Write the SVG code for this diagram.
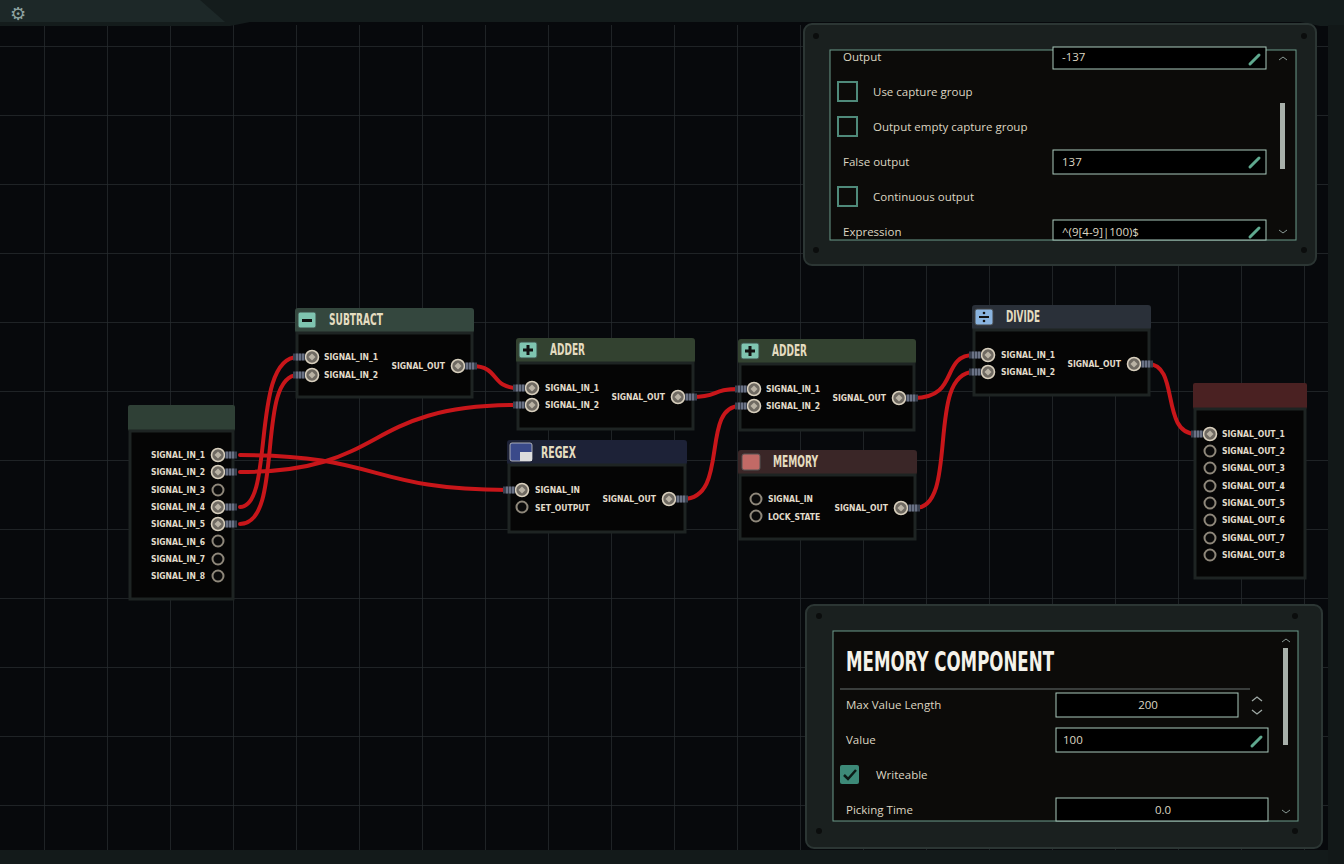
<svg xmlns="http://www.w3.org/2000/svg" width="1344" height="864" viewBox="0 0 1344 864">
<defs>
<pattern id="grid" x="44" y="46" width="63" height="69" patternUnits="userSpaceOnUse">
<path d="M0 0V69M0 0H63" stroke="#262b2e" stroke-width="1.5" fill="none"/>
</pattern>
<g id="port"><circle r="6.5" fill="#6f6a62" stroke="#d8cfbd" stroke-width="1.6"/><rect x="-2.5" y="-2.5" width="5" height="5" fill="#b9b2a4" transform="rotate(45)"/></g>
<g id="empty"><circle r="5.5" fill="#0a0a0a" stroke="#8e877a" stroke-width="2"/></g>
<g id="stubR"><rect x="7" y="-3.5" width="12" height="7" fill="#3a4150"/><path d="M9-3.5v7M12-3.5v7M15-3.5v7" stroke="#9aa3b8" stroke-width="1"/></g>
<g id="stubL"><rect x="-19" y="-3.5" width="12" height="7" fill="#3a4150"/><path d="M-9-3.5v7M-12-3.5v7M-15-3.5v7" stroke="#9aa3b8" stroke-width="1"/></g>
</defs>
<style>
.pl{font-family:"DejaVu Sans Condensed","Liberation Sans Narrow",sans-serif;font-size:8.5px;fill:#e2dccb;font-weight:bold}
.hd{font-family:"DejaVu Sans Condensed","Liberation Sans",sans-serif;font-size:15px;font-weight:bold;fill:#e4dcc0}
.body{fill:#050505;stroke:#1e2423;stroke-width:3}
.w{fill:none;stroke:#c8161a;stroke-width:4;stroke-linecap:round}
.ui{font-family:"Open Sans","DejaVu Sans",sans-serif;font-size:11.5px;fill:#ddd6c2}
.box{fill:#000;stroke:#a9c9bc;stroke-width:1}
.cb{fill:none;stroke:#4f8a7a;stroke-width:2}
.pen{stroke:#5fa88e;stroke-width:3;stroke-linecap:round}
</style>
<rect width="1344" height="864" fill="#07090c"/>
<rect x="0" y="25" width="1344" height="839" fill="url(#grid)"/>
<path d="M0 0H1344V26H1320L1300 22H250L230 26H0Z" fill="#141c1c"/>
<path d="M0 0H200L225 22H0Z" fill="#1d2828"/>
<text x="10" y="20" font-family="DejaVu Sans" font-size="18" fill="#8fa3a0">⚙</text>
<rect x="0" y="850" width="1344" height="14" fill="#131a1a"/>
<rect x="1328" y="25" width="16" height="839" fill="#121818"/>

<g id="connectors">
<path class="w" d="M240 455C380 455 370 490 508 490"/>
<path class="w" d="M240 472C390 472 360 405 518 405"/>
<path class="w" d="M240 507C275 507 250 357 298 357"/>
<path class="w" d="M240 524C285 524 255 375 298 375"/>
<path class="w" d="M472 366C500 366 490 388 518 388"/>
<path class="w" d="M692 397C720 397 710 389 740 389"/>
<path class="w" d="M683 499C730 499 700 406 740 406"/>
<path class="w" d="M914 398C960 398 940 355 974 355"/>
<path class="w" d="M915 508C960 508 925 372 974 372"/>
<path class="w" d="M1148 364C1180 364 1160 434 1196 434"/>
</g>

<g id="input">
<rect x="128" y="405" width="107" height="26" rx="2" fill="#2f4036"/>
<rect class="body" x="130" y="431" width="103" height="168" fill="#070807"/>
<g class="pl" text-anchor="end">
<text x="205" y="458">SIGNAL_IN_1</text><text x="205" y="475">SIGNAL_IN_2</text><text x="205" y="493">SIGNAL_IN_3</text><text x="205" y="510">SIGNAL_IN_4</text><text x="205" y="527">SIGNAL_IN_5</text><text x="205" y="545">SIGNAL_IN_6</text><text x="205" y="562">SIGNAL_IN_7</text><text x="205" y="579">SIGNAL_IN_8</text>
</g>
<use href="#port" x="218" y="455"/><use href="#stubR" x="218" y="455"/>
<use href="#port" x="218" y="472"/><use href="#stubR" x="218" y="472"/>
<use href="#empty" x="218" y="490"/>
<use href="#port" x="218" y="507"/><use href="#stubR" x="218" y="507"/>
<use href="#port" x="218" y="524"/><use href="#stubR" x="218" y="524"/>
<use href="#empty" x="218" y="541"/><use href="#empty" x="218" y="559"/><use href="#empty" x="218" y="576"/>
</g>

<g id="subtract">
<rect x="295" y="308" width="179" height="25" rx="3" fill="#34473e"/>
<rect x="298" y="312" width="18" height="16" rx="2" fill="#7fc4b0" stroke="#3a4a45"/><rect x="302" y="319" width="10" height="3" fill="#111"/>
<text class="hd" x="329" y="325" textLength="54" lengthAdjust="spacingAndGlyphs">SUBTRACT</text>
<rect class="body" x="297" y="333" width="175" height="64"/>
<text class="pl" x="324" y="360">SIGNAL_IN_1</text><text class="pl" x="324" y="378">SIGNAL_IN_2</text>
<text class="pl" x="445" y="369" text-anchor="end">SIGNAL_OUT</text>
<use href="#port" x="312" y="357"/><use href="#stubL" x="312" y="357"/>
<use href="#port" x="312" y="375"/><use href="#stubL" x="312" y="375"/>
<use href="#port" x="458" y="366"/><use href="#stubR" x="458" y="366"/>
</g>

<g id="adder1">
<rect x="516" y="338" width="179" height="25" rx="3" fill="#334230"/>
<rect x="519" y="342" width="18" height="16" rx="2" fill="#7fc4b0" stroke="#3a4a45"/><path d="M528 345v10M523 350h10" stroke="#111" stroke-width="3"/>
<text class="hd" x="550" y="355" textLength="35" lengthAdjust="spacingAndGlyphs">ADDER</text>
<rect class="body" x="518" y="363" width="175" height="66"/>
<text class="pl" x="545" y="391">SIGNAL_IN_1</text><text class="pl" x="545" y="408">SIGNAL_IN_2</text>
<text class="pl" x="665" y="400" text-anchor="end">SIGNAL_OUT</text>
<use href="#port" x="532" y="388"/><use href="#stubL" x="532" y="388"/>
<use href="#port" x="532" y="405"/><use href="#stubL" x="532" y="405"/>
<use href="#port" x="678" y="397"/><use href="#stubR" x="678" y="397"/>
</g>

<g id="regex">
<rect x="507" y="440" width="180" height="25" rx="3" fill="#1d2237"/>
<rect x="510" y="443" width="22" height="18" rx="2" fill="#3a4a8a" stroke="#ccc" stroke-width="0.8"/><rect x="520" y="452" width="12" height="9" fill="#ddd"/>
<text class="hd" x="541" y="458" textLength="35" lengthAdjust="spacingAndGlyphs">REGEX</text>
<rect class="body" x="509" y="465" width="176" height="67" fill="#05060b"/>
<text class="pl" x="535" y="493">SIGNAL_IN</text><text class="pl" x="535" y="511">SET_OUTPUT</text>
<text class="pl" x="656" y="502" text-anchor="end">SIGNAL_OUT</text>
<use href="#port" x="522" y="490"/><use href="#stubL" x="522" y="490"/>
<use href="#empty" x="522" y="507"/>
<use href="#port" x="669" y="499"/><use href="#stubR" x="669" y="499"/>
</g>

<g id="adder2">
<rect x="738" y="339" width="178" height="25" rx="3" fill="#334230"/>
<rect x="741" y="343" width="18" height="16" rx="2" fill="#7fc4b0" stroke="#3a4a45"/><path d="M750 346v10M745 351h10" stroke="#111" stroke-width="3"/>
<text class="hd" x="772" y="356" textLength="35" lengthAdjust="spacingAndGlyphs">ADDER</text>
<rect class="body" x="740" y="364" width="174" height="66"/>
<text class="pl" x="766" y="392">SIGNAL_IN_1</text><text class="pl" x="766" y="409">SIGNAL_IN_2</text>
<text class="pl" x="886" y="401" text-anchor="end">SIGNAL_OUT</text>
<use href="#port" x="754" y="389"/><use href="#stubL" x="754" y="389"/>
<use href="#port" x="754" y="406"/><use href="#stubL" x="754" y="406"/>
<use href="#port" x="899" y="398"/><use href="#stubR" x="899" y="398"/>
</g>

<g id="memory">
<rect x="738" y="450" width="179" height="25" rx="3" fill="#3a2627"/>
<rect x="742" y="454" width="18" height="16" rx="2" fill="#c26a66" stroke="#555"/>
<text class="hd" x="773" y="467" textLength="45" lengthAdjust="spacingAndGlyphs">MEMORY</text>
<rect class="body" x="740" y="475" width="175" height="64" fill="#070505"/>
<text class="pl" x="768" y="502">SIGNAL_IN</text><text class="pl" x="768" y="520">LOCK_STATE</text>
<text class="pl" x="888" y="511" text-anchor="end">SIGNAL_OUT</text>
<use href="#empty" x="756" y="499"/><use href="#empty" x="756" y="516"/>
<use href="#port" x="901" y="508"/><use href="#stubR" x="901" y="508"/>
</g>

<g id="divide">
<rect x="972" y="305" width="179" height="25" rx="3" fill="#2a3039"/>
<rect x="975" y="309" width="18" height="16" rx="2" fill="#8ab4e0" stroke="#444"/><path d="M979 317h10" stroke="#111" stroke-width="2"/><circle cx="984" cy="313" r="1.3" fill="#111"/><circle cx="984" cy="321" r="1.3" fill="#111"/>
<text class="hd" x="1006" y="322" textLength="34" lengthAdjust="spacingAndGlyphs">DIVIDE</text>
<rect class="body" x="974" y="330" width="175" height="65"/>
<text class="pl" x="1001" y="358">SIGNAL_IN_1</text><text class="pl" x="1001" y="375">SIGNAL_IN_2</text>
<text class="pl" x="1121" y="367" text-anchor="end">SIGNAL_OUT</text>
<use href="#port" x="988" y="355"/><use href="#stubL" x="988" y="355"/>
<use href="#port" x="988" y="372"/><use href="#stubL" x="988" y="372"/>
<use href="#port" x="1134" y="364"/><use href="#stubR" x="1134" y="364"/>
</g>

<g id="output">
<rect x="1193" y="383" width="114" height="26" rx="2" fill="#4a2122"/>
<rect class="body" x="1195" y="409" width="110" height="169" fill="#070404" stroke="#2a1a1a"/>
<g class="pl">
<text x="1222" y="437">SIGNAL_OUT_1</text><text x="1222" y="454">SIGNAL_OUT_2</text><text x="1222" y="471">SIGNAL_OUT_3</text><text x="1222" y="489">SIGNAL_OUT_4</text><text x="1222" y="506">SIGNAL_OUT_5</text><text x="1222" y="523">SIGNAL_OUT_6</text><text x="1222" y="541">SIGNAL_OUT_7</text><text x="1222" y="558">SIGNAL_OUT_8</text>
</g>
<use href="#port" x="1210" y="434"/><use href="#stubL" x="1210" y="434"/>
<use href="#empty" x="1210" y="451"/><use href="#empty" x="1210" y="468"/><use href="#empty" x="1210" y="486"/><use href="#empty" x="1210" y="503"/><use href="#empty" x="1210" y="520"/><use href="#empty" x="1210" y="538"/><use href="#empty" x="1210" y="555"/>
</g>

<g id="regex-panel">
<rect x="804" y="24" width="512" height="241" rx="8" fill="#1a201f" stroke="#2c3634" stroke-width="2"/>
<circle cx="816" cy="36" r="3" fill="#0b0d0d"/><circle cx="1304" cy="36" r="3" fill="#0b0d0d"/><circle cx="816" cy="250" r="3" fill="#0b0d0d"/><circle cx="1304" cy="250" r="3" fill="#0b0d0d"/>
<rect x="830" y="50" width="466" height="190" fill="#0c0b09" stroke="#6b9a8a"/>
<text class="ui" x="843" y="61">Output</text>
<rect class="box" x="1053" y="47" width="213" height="22"/><text class="ui" x="1062" y="61">-137</text><path class="pen" d="M1250 64l9-9"/>
<rect class="cb" x="838" y="82" width="19" height="19"/><text class="ui" x="873" y="96">Use capture group</text>
<rect class="cb" x="838" y="117" width="19" height="19"/><text class="ui" x="873" y="131">Output empty capture group</text>
<text class="ui" x="843" y="166">False output</text>
<rect class="box" x="1053" y="150" width="213" height="24"/><text class="ui" x="1062" y="166">137</text><path class="pen" d="M1250 167l9-9"/>
<rect class="cb" x="838" y="187" width="19" height="19"/><text class="ui" x="873" y="201">Continuous output</text>
<text class="ui" x="843" y="236">Expression</text>
<rect class="box" x="1053" y="220" width="213" height="20"/><text class="ui" x="1062" y="236">^(9[4-9]|100)$</text><path class="pen" d="M1250 237l9-9"/>
<rect x="1280" y="103" width="5" height="66" fill="#a8b0aa"/>
<path d="M1279 60l4-3 4 3M1279 230l4 3 4-3" stroke="#8a9a95" fill="none"/>
</g>

<g id="memory-panel">
<rect x="806" y="605" width="516" height="243" rx="8" fill="#1a201f" stroke="#2c3634" stroke-width="2"/>
<circle cx="819" cy="616" r="3" fill="#0b0d0d"/><circle cx="1295" cy="616" r="3" fill="#0b0d0d"/><circle cx="819" cy="831" r="3" fill="#0b0d0d"/><circle cx="1295" cy="831" r="3" fill="#0b0d0d"/>
<rect x="833" y="631" width="465" height="190" fill="#0c0b09" stroke="#6b9a8a"/>
<text x="846" y="671" font-family="DejaVu Sans Condensed,sans-serif" font-size="27" font-weight="bold" fill="#f4f2ea" textLength="208" lengthAdjust="spacingAndGlyphs">MEMORY COMPONENT</text>
<path d="M840 689H1250" stroke="#3a3e3c" stroke-width="2"/>
<text class="ui" x="846" y="709">Max Value Length</text>
<rect class="box" x="1056" y="693" width="182" height="24"/><text class="ui" x="1148" y="709" text-anchor="middle">200</text>
<path d="M1252 701l5-4 5 4M1252 710l5 4 5-4" stroke="#a0aaa6" fill="none" stroke-width="1.3"/>
<text class="ui" x="846" y="744">Value</text>
<rect class="box" x="1056" y="728" width="212" height="24"/><text class="ui" x="1063" y="744">100</text><path class="pen" d="M1252 746l9-9"/>
<rect x="840" y="765" width="19" height="19" rx="2" fill="#3d8a78"/><path d="M844 775l4 4 8-9" stroke="#0c1a16" stroke-width="2.5" fill="none"/>
<text class="ui" x="876" y="779">Writeable</text>
<text class="ui" x="846" y="814">Picking Time</text>
<rect class="box" x="1056" y="798" width="212" height="23"/><text class="ui" x="1163" y="814" text-anchor="middle">0.0</text>
<rect x="1283" y="648" width="5" height="97" fill="#a8b0aa"/>
<path d="M1282 642l4-3 4 3M1282 810l4 3 4-3" stroke="#8a9a95" fill="none"/>
</g>
</svg>
